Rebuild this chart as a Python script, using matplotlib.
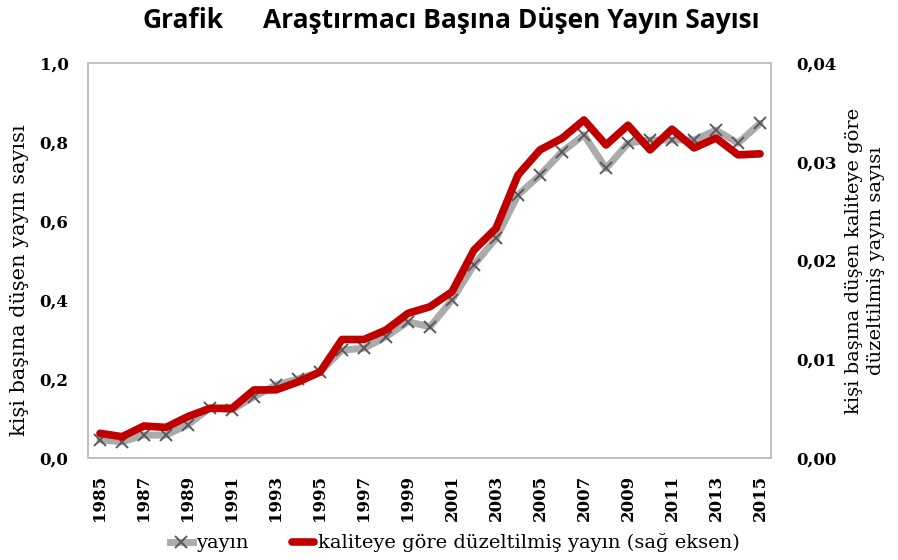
import matplotlib
matplotlib.use("Agg")
import matplotlib.pyplot as plt
from matplotlib.lines import Line2D

years = list(range(1985, 2016))
yayin = [0.046, 0.041, 0.058, 0.058, 0.084, 0.127, 0.122, 0.155, 0.185, 0.200,
         0.218, 0.273, 0.278, 0.307, 0.345, 0.332, 0.400, 0.489, 0.556, 0.666,
         0.716, 0.775, 0.818, 0.733, 0.797, 0.805, 0.805, 0.805, 0.830, 0.797, 0.847]
kalite = [0.00250, 0.00216, 0.00324, 0.00310, 0.00420, 0.00503, 0.00503, 0.00689,
          0.00690, 0.00770, 0.00870, 0.01200, 0.01200, 0.01296, 0.01465, 0.01532,
          0.01684, 0.02106, 0.02326, 0.02866, 0.03120, 0.03237, 0.03423, 0.03170,
          0.03370, 0.03120, 0.03330, 0.03140, 0.03240, 0.03070, 0.03080]

left_ticks = [0.0, 0.2, 0.4, 0.6, 0.8, 1.0]
left_labels = ["0,0", "0,2", "0,4", "0,6", "0,8", "1,0"]
right_ticks = [0.0, 0.01, 0.02, 0.03, 0.04]
right_labels = ["0,00", "0,01", "0,02", "0,03", "0,04"]
xtick_years = list(range(1985, 2016, 2))

title_prefix = "Grafik"
title_main = "Araştırmacı Başına Düşen Yayın Sayısı"
left_ylabel = "kişi başına düşen yayın sayısı"
right_ylabel = "kişi başına düşen kaliteye göre\ndüzeltilmiş yayın sayısı"
legend_labels = ["yayın", "kaliteye göre düzeltilmiş yayın (sağ eksen)"]

serif = "DejaVu Serif"
W, H = 898, 560
fig = plt.figure(figsize=(W / 100, H / 100), dpi=100)
ax = fig.add_axes([88 / W, 102 / H, 683 / W, 395 / H])
ax2 = ax.twinx()

gray_c = "#ababab"
mark_c = "#5a5a5a"
red_c = "#c00000"

ax.plot(years, yayin, color=gray_c, lw=5, marker="x", ms=9,
        mec=mark_c, mew=1.4, zorder=2, solid_capstyle="round")
ax2.plot(years, kalite, color=red_c, lw=5.5, zorder=3,
         solid_capstyle="round", solid_joinstyle="round")

ax.set_xlim(1984.455, 2015.5)
ax.set_ylim(0, 1.0)
ax2.set_ylim(0, 0.04)

ax.set_yticks(left_ticks)
ax.set_yticklabels(left_labels, fontfamily=serif, fontweight="bold", fontsize=12)
ax2.set_yticks(right_ticks)
ax2.set_yticklabels(right_labels, fontfamily=serif, fontweight="bold", fontsize=12)
ax.set_xticks(xtick_years)
ax.set_xticklabels([str(y) for y in xtick_years], rotation=90, fontfamily=serif,
                   fontweight="bold", fontsize=12)

for a in (ax, ax2):
    a.tick_params(length=0)
    for s in a.spines.values():
        s.set_color("#bfbfbf")
        s.set_linewidth(1.2)
ax.tick_params(axis="y", pad=14)
ax2.tick_params(axis="y", pad=18)
ax.tick_params(axis="x", pad=12)

ax.set_ylabel(left_ylabel, fontfamily=serif, fontsize=15)
ax.yaxis.set_label_coords(-0.086, 0.45)
ax2.set_ylabel(right_ylabel, fontfamily=serif, fontsize=14, rotation=90,
               labelpad=6, linespacing=1.3)

fig.text(142 / W, 1 - 20 / H, title_prefix, ha="left", va="center",
         fontfamily="Open Sans", fontweight="bold", fontsize=19)
fig.text(263 / W, 1 - 20 / H, title_main, ha="left", va="center",
         fontfamily="Open Sans", fontweight="bold", fontsize=19)

h1 = Line2D([], [], color=gray_c, lw=5, marker="x", ms=9, mec=mark_c, mew=1.4)
h2 = Line2D([], [], color=red_c, lw=5.5, solid_capstyle="round")
fig.legend([h1, h2], legend_labels, loc="center", bbox_to_anchor=(455 / W, 1 - 543 / H),
           ncol=2, frameon=False, handlelength=1.15, handletextpad=0.2,
           columnspacing=2.2, borderaxespad=0, prop={"family": serif, "size": 14})

fig.savefig("out.png", dpi=100)
